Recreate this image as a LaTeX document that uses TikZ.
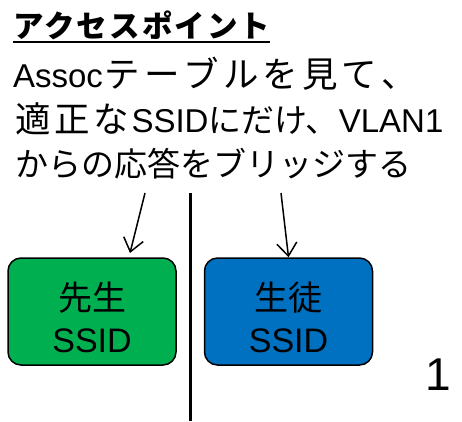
\documentclass[tikz,border=0pt]{standalone}
\usepackage{fontspec}
\setmainfont{Liberation Sans}
\newfontfamily\jp{Noto Sans CJK JP}
\newfontfamily\jpt[LetterSpace=7]{Noto Sans CJK JP}
\newcommand\wchar[1]{\makebox[39.5pt]{\fontsize{35.5}{40}\selectfont\jp #1}}
\usetikzlibrary{arrows.meta}
\definecolor{tgreen}{HTML}{00B050}
\definecolor{sblue}{HTML}{0070C0}
\tikzset{
  txt/.style={inner sep=0pt, outer sep=0pt, anchor=base west, font=\fontsize{33}{40}\selectfont},
  lbl/.style={inner sep=0pt, outer sep=0pt, anchor=base, font=\fontsize{34}{40}\selectfont},
  ssidbox/.style={draw=black, line width=1.5pt, rounded corners=13pt, minimum width=168pt, minimum height=107pt, inner sep=0pt},
  arr/.style={line width=1.5pt, -{Straight Barb[length=13pt,width=20pt,line width=1.5pt]}},
}
\begin{document}
\begin{tikzpicture}[x=1pt,y=-1pt]
\useasboundingbox (0,0) rectangle (462,421);
% title
\node[txt, font=\fontsize{30.5}{36}\selectfont\bfseries\jpt] (title) at (13,37) {アクセスポイント};
\draw[line width=2.5pt] ([yshift=-5pt]title.base west) -- ([yshift=-5pt]title.base east);
% body lines
\node[txt] (l2) at (13,87) {Assoc\wchar{テ}\wchar{ー}\wchar{ブ}\wchar{ル}\wchar{を}\wchar{見}\wchar{て}\wchar{、}};
\node[txt] (l3) at (13,132) {\wchar{適}\wchar{正}\wchar{な}SSID{\jp にだけ、}VLAN1};
\node[txt] (l4) at (15,176) {{\jp からの応答をブリッジする}};
% boxes
\node[ssidbox, fill=tgreen] (gbox) at (92,311.5) {};
\node[ssidbox, fill=sblue] (bbox) at (288.5,311.5) {};
\node[lbl] (g1) at (92,310) {\jp 先生};
\node[lbl] (g2) at (92,352) {SSID};
\node[lbl] (b1) at (288.5,310) {\jp 生徒};
\node[lbl] (b2) at (288.5,352) {SSID};
% divider
\coordinate (vtop) at (190,193);
\coordinate (vbot) at (190,421);
\draw[line width=3pt] (vtop) -- (vbot);
% arrows
\coordinate (a1s) at (145,193);
\coordinate (a1e) at (130,253);
\coordinate (a2s) at (281,193);
\draw[arr] (a1s) -- (a1e);
\draw[arr] (a2s) -- (bbox.north);
% page number
\node[inner sep=0pt, anchor=base, font=\fontsize{46}{50}\selectfont] (pg) at (438,390) {1};
\end{tikzpicture}
\end{document}
